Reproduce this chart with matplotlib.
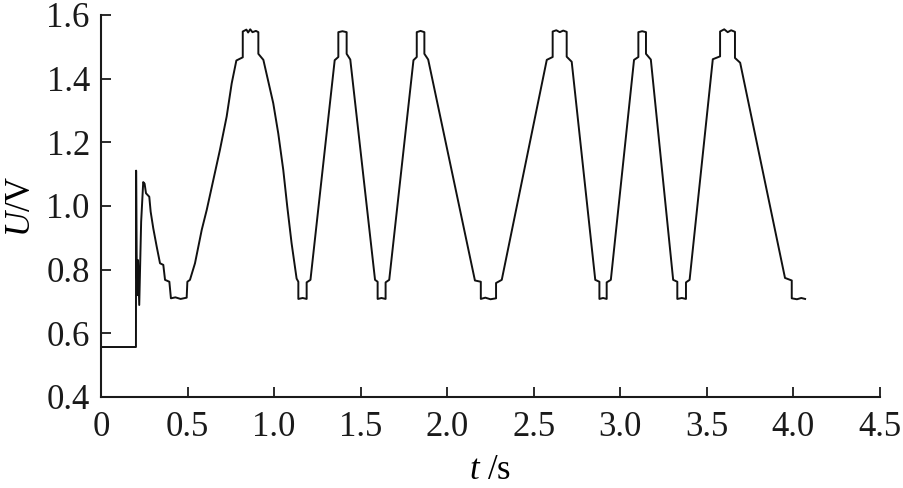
import matplotlib
matplotlib.use("Agg")
import matplotlib.pyplot as plt

# waveform vertices (time in s, voltage in V)
t = [0.000, 0.202, 0.203, 0.206, 0.209, 0.214, 0.221, 0.232, 0.244, 0.252,
     0.260, 0.279, 0.287, 0.302, 0.322, 0.341, 0.360, 0.370, 0.395, 0.404,
     0.430, 0.460, 0.495, 0.499, 0.514, 0.543, 0.562, 0.582, 0.611, 0.649,
     0.687, 0.726, 0.755, 0.782, 0.819, 0.819, 0.840, 0.850, 0.862, 0.875,
     0.895, 0.909, 0.909, 0.938, 0.967, 0.995, 1.024, 1.053, 1.076, 1.101,
     1.130, 1.140, 1.140, 1.165, 1.188, 1.188, 1.210,
     1.350, 1.371, 1.371, 1.395, 1.419, 1.419, 1.440,
     1.583, 1.598, 1.598, 1.620, 1.644, 1.644, 1.665,
     1.805, 1.824, 1.824, 1.846, 1.868, 1.868, 1.890,
     2.160, 2.194, 2.194, 2.220, 2.250, 2.282, 2.282, 2.315,
     2.575, 2.609, 2.609, 2.630, 2.650, 2.670, 2.690, 2.690, 2.719,
     2.855, 2.879, 2.879, 2.900, 2.921, 2.921, 2.945,
     3.079, 3.104, 3.104, 3.126, 3.148, 3.148, 3.176,
     3.305, 3.329, 3.329, 3.355, 3.379, 3.379, 3.400,
     3.534, 3.576, 3.576, 3.600, 3.620, 3.640, 3.662, 3.662, 3.692,
     3.951, 3.990, 3.990, 4.020, 4.045, 4.067]
u = [0.557, 0.557, 1.111, 0.850, 0.720, 0.830, 0.689, 0.950, 1.075, 1.070,
     1.040, 1.029, 0.982, 0.930, 0.872, 0.820, 0.815, 0.768, 0.762, 0.710,
     0.713, 0.708, 0.712, 0.762, 0.768, 0.820, 0.872, 0.925, 0.988, 1.082,
     1.176, 1.281, 1.385, 1.457, 1.467, 1.548, 1.554, 1.545, 1.555, 1.546,
     1.550, 1.546, 1.478, 1.459, 1.390, 1.323, 1.228, 1.113, 0.998, 0.883,
     0.772, 0.762, 0.708, 0.711, 0.708, 0.760, 0.768,
     1.458, 1.468, 1.546, 1.549, 1.546, 1.478, 1.460,
     0.768, 0.762, 0.708, 0.711, 0.708, 0.760, 0.768,
     1.458, 1.468, 1.546, 1.550, 1.546, 1.478, 1.460,
     0.766, 0.762, 0.708, 0.712, 0.707, 0.710, 0.758, 0.768,
     1.459, 1.468, 1.548, 1.552, 1.546, 1.551, 1.547, 1.469, 1.453,
     0.768, 0.762, 0.708, 0.711, 0.708, 0.760, 0.768,
     1.459, 1.468, 1.546, 1.549, 1.546, 1.478, 1.460,
     0.768, 0.762, 0.708, 0.711, 0.708, 0.760, 0.768,
     1.461, 1.470, 1.548, 1.555, 1.546, 1.552, 1.547, 1.465, 1.450,
     0.774, 0.766, 0.710, 0.707, 0.711, 0.708]

xticks = [0, 0.5, 1.0, 1.5, 2.0, 2.5, 3.0, 3.5, 4.0, 4.5]
xticklabels = ["0", "0.5", "1.0", "1.5", "2.0", "2.5", "3.0", "3.5", "4.0", "4.5"]
yticks = [0.4, 0.6, 0.8, 1.0, 1.2, 1.4, 1.6]
yticklabels = ["0.4", "0.6", "0.8", "1.0", "1.2", "1.4", "1.6"]

plt.rcParams["font.family"] = ["Liberation Serif", "DejaVu Serif"]
plt.rcParams["mathtext.fontset"] = "custom"
plt.rcParams["mathtext.rm"] = "Liberation Serif"
plt.rcParams["mathtext.it"] = "Liberation Serif:italic"

fig = plt.figure(figsize=(9.04, 4.88), dpi=100)
ax = fig.add_axes([0.1117, 0.1865, 0.8618, 0.7828])
ax.plot(t, u, color="#111111", lw=1.4)

ax.set_xlim(0, 4.5)
ax.set_ylim(0.4, 1.6)
ax.set_xticks(xticks)
ax.set_xticklabels(xticklabels)
ax.set_yticks(yticks)
ax.set_yticklabels(yticklabels)
for s in ("top", "right"):
    ax.spines[s].set_visible(False)
for s in ("left", "bottom"):
    ax.spines[s].set_linewidth(1.5)
    ax.spines[s].set_color("#1a1a1a")
ax.tick_params(direction="in", length=7, width=1.3, labelsize=25, colors="#1a1a1a")
ax.tick_params(axis="x", pad=10)
ax.tick_params(axis="y", pad=8)
ax.set_xlabel(r"$\it{t}$ /s", fontsize=25, labelpad=7)
ax.set_ylabel(r"$\it{U}$/V", fontsize=25, labelpad=6)

fig.savefig("out.png", dpi=100)
